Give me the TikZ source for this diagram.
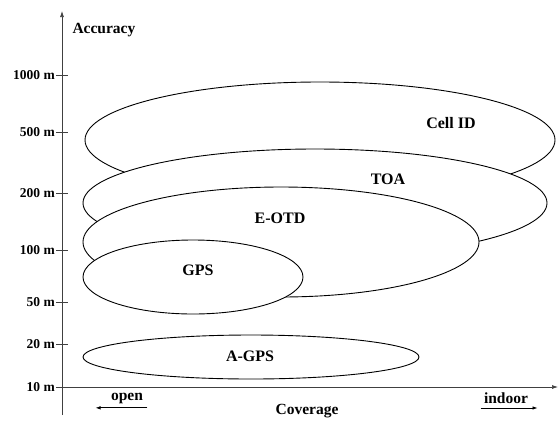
\documentclass[tikz,border=0pt]{standalone}
\usepackage{fontspec}
\setmainfont{Liberation Serif}
\usetikzlibrary{shapes.geometric,arrows.meta}
\begin{document}
\begin{tikzpicture}[x=1pt,y=-1pt]
  \tikzset{
    zone/.style={
      ellipse,
      draw=black,
      fill=white,
      line width=0.9pt,
      inner sep=0pt
    },
    zonelabel/.style={font=\bfseries\fontsize{16}{16}\selectfont},
    ticklabel/.style={font=\bfseries\fontsize{13.5}{13.5}\selectfont, anchor=east, inner sep=1pt},
    axislabel/.style={font=\bfseries\fontsize{15.5}{15.5}\selectfont},
    axis/.style={line width=0.7pt, draw=black!75}
  }
  \useasboundingbox (0,0) rectangle (559,421);

  % zones, back to front
  \node[zone, minimum width=470pt, minimum height=116pt] (cellid) at (320,140) {};
  \node[zone, minimum width=464pt, minimum height=108pt] (toa) at (315,203) {};
  \node[zone, minimum width=396pt, minimum height=110pt] (eotd) at (281,242) {};
  \node[zone, minimum width=220pt, minimum height=74pt] (gps) at (193,277) {};
  \node[zone, minimum width=336pt, minimum height=44pt] (agps) at (251,357) {};

  \node[zonelabel] (lcellid) at (451,123) {Cell ID};
  \node[zonelabel] (ltoa) at (388,179) {TOA};
  \node[zonelabel] (leotd) at (280,218) {E-OTD};
  \node[zonelabel] (lgps) at (198,270) {GPS};
  \node[zonelabel] (lagps) at (250,356) {A-GPS};

  % axes
  \coordinate (ybot) at (62,415);
  \coordinate (ytop) at (62,11);
  \coordinate (xleft) at (57,387);
  \coordinate (xright) at (558,387);
  \draw[axis, -{Latex[length=6pt,width=4pt]}] (ybot) -- (ytop);
  \draw[axis, -{Latex[length=6pt,width=4pt]}] (xleft) -- (xright);

  \foreach \val/\y in {1000/75, 500/132, 200/193, 100/250, 50/302, 20/344, 10/387} {
    \node[ticklabel] (t\val) at (56,\y) {\val~m};
    \draw[axis] (t\val.east) -- ++(12,0);
  }

  \node[axislabel, anchor=west] (accuracy) at (69,30) {Accuracy};
  \node[axislabel] (coverage) at (307,411) {Coverage};

  \node[axislabel] (open) at (127,398) {open};
  \node[axislabel] (indoor) at (506,398) {indoor};
  \draw[-{Latex[length=5pt,width=3.5pt]}, line width=0.7pt] ([xshift=1pt,yshift=-1pt]open.south east) -- ([xshift=-12pt,yshift=-1pt]open.south west);
  \draw[-{Latex[length=5pt,width=3.5pt]}, line width=0.7pt] ([xshift=0pt,yshift=-1pt]indoor.south west) -- ([xshift=6pt,yshift=-1pt]indoor.south east);
\end{tikzpicture}
\end{document}
